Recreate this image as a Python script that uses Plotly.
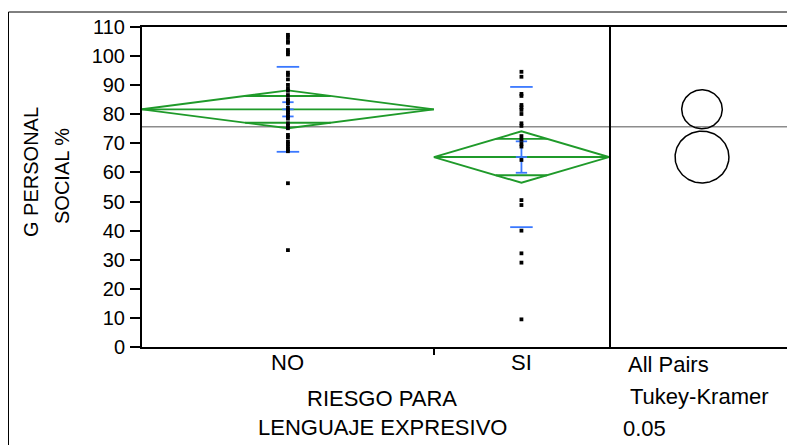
import numpy as np
import plotly.graph_objects as go

# ---------------- data ----------------
groups = ["NO", "SI"]
no_values = [107.3, 106.5, 105.2, 104.6, 102.1, 101.3, 100.6, 94.3, 93.5, 92.0, 90.1, 88.9, 88.1,
             86.6, 85.2, 84.4, 83.7, 82.2, 81.4, 80.7, 80.0, 79.2, 78.5,
             76.9, 76.0, 75.2, 72.9, 72.1, 70.6, 69.8, 68.9, 68.0, 67.3, 56.3, 33.3]
si_values = [94.6, 92.9, 87.0, 86.3, 83.2, 82.4, 81.5, 80.1, 76.9, 76.0, 72.5, 71.2, 69.8, 68.9,
             64.3, 50.5, 48.8, 40.0, 32.2, 29.0, 9.5]
group_means = [81.7, 65.3]
ci_half = [6.5, 8.85]
std_devs = [14.6, 24.1]
std_errs = [2.45, 5.4]
grand_mean = 75.7
circle_radius = [6.7, 8.9]
y_ticks = list(range(0, 111, 10))
right_panel_text = ["All Pairs", "Tukey-Kramer", "0.05"]
x_title = ["RIESGO PARA", "LENGUAJE EXPRESIVO"]
y_title = ["G PERSONAL", "SOCIAL %"]

# ---------------- styling ----------------
OFF = 8                      # page body margin
W, H = 795 - OFF, 445 - OFF
FONT = "Liberation Sans, Arial, sans-serif"
GREEN = "#1f9a2a"
BLUE = "#3a78ff"
px = lambda v: (v - OFF) / W
py = lambda v: 1 - (v - OFF) / H

x_dom = [px(142), px(609)]
x2_dom = [px(609), 1.0]
y_dom = [py(347), py(27)]

values = [no_values, si_values]
sizes = [len(v) for v in values]
lefts = [sum(sizes[:i]) for i in range(len(sizes))]
centers = [l + n / 2 for l, n in zip(lefts, sizes)]
total = sum(sizes)

fig = go.Figure()

# diamonds, mean lines, overlap marks
for l, n, c, m, h in zip(lefts, sizes, centers, group_means, ci_half):
    r = l + n
    fig.add_trace(go.Scatter(x=[l, c, r, c, l], y=[m, m + h, m, m - h, m], mode="lines",
                             line=dict(color=GREEN, width=1.9), hoverinfo="skip"))
    fig.add_trace(go.Scatter(x=[l, r], y=[m, m], mode="lines",
                             line=dict(color=GREEN, width=1.9), hoverinfo="skip"))
    hw = (1 - 1 / np.sqrt(2)) * n / 2
    ov = h / np.sqrt(2)
    fig.add_trace(go.Scatter(x=[c - hw, c + hw, None, c - hw, c + hw],
                             y=[m + ov, m + ov, None, m - ov, m - ov], mode="lines",
                             line=dict(color=GREEN, width=1.9), hoverinfo="skip"))

# blue std-dev lines and standard-error bars
sd_half = 1.35
se_half = 0.68
for c, m, s, e in zip(centers, group_means, std_devs, std_errs):
    fig.add_trace(go.Scatter(x=[c - sd_half, c + sd_half, None, c - sd_half, c + sd_half],
                             y=[m + s, m + s, None, m - s, m - s], mode="lines",
                             line=dict(color=BLUE, width=1.8), hoverinfo="skip"))
    fig.add_trace(go.Scatter(x=[c - se_half, c + se_half, None, c - se_half, c + se_half, None,
                                c - se_half, c + se_half, None, c, c],
                             y=[m + e, m + e, None, m - e, m - e, None, m, m, None, m - e, m + e],
                             mode="lines", line=dict(color=BLUE, width=1.8), hoverinfo="skip"))

# data points
for c, v in zip(centers, values):
    fig.add_trace(go.Scatter(x=[c] * len(v), y=v, mode="markers",
                             marker=dict(symbol="square", size=3.8, color="black",
                                         line=dict(width=0)), hoverinfo="y"))

# comparison circles in the right panel
x2_span = (795 - 609) * 110 / 320 / 1.04
xc = x2_span / 2
t = np.linspace(0, 2 * np.pi, 181)
for m, rad in zip(group_means, circle_radius):
    fig.add_trace(go.Scatter(x=xc + rad * np.cos(t), y=m + rad * np.sin(t), mode="lines",
                             xaxis="x2", yaxis="y", line=dict(color="black", width=1.5),
                             hoverinfo="skip"))

# grand mean line across both panels
fig.add_shape(type="line", xref="paper", yref="y", x0=x_dom[0], x1=1.0,
              y0=grand_mean, y1=grand_mean, line=dict(color="#8c8c8c", width=1.6), layer="below")

# outer frame
fig.add_shape(type="line", xref="paper", yref="paper", x0=px(8.5), x1=px(8.5), y0=py(12), y1=0,
              line=dict(color="black", width=1))
fig.add_shape(type="line", xref="paper", yref="paper", x0=px(8.5), x1=1, y0=py(12), y1=py(12),
              line=dict(color="black", width=1))

annotations = []
# category labels under the axis, at group centers
for g, c in zip(groups, centers):
    annotations.append(dict(text=g, x=c, y=py(362), xref="x", yref="paper",
                            showarrow=False, xanchor="center", yanchor="middle",
                            font=dict(family=FONT, size=22, color="black")))
for txt, yy in zip(x_title, [398, 427]):
    annotations.append(dict(text=txt, x=px(382), y=py(yy), xref="paper", yref="paper",
                            showarrow=False, xanchor="center", yanchor="middle",
                            font=dict(family=FONT, size=22, color="black")))
for txt, xx, yy in zip(right_panel_text, [626, 628, 621], [364, 396, 428]):
    annotations.append(dict(text=txt, x=px(xx), y=py(yy), xref="paper", yref="paper",
                            showarrow=False, xanchor="left", yanchor="middle",
                            font=dict(family=FONT, size=22, color="black")))
for txt, xx, yy in zip(y_title, [31, 62], [172, 176]):
    annotations.append(dict(text=txt, x=px(xx), y=py(yy), xref="paper", yref="paper",
                            showarrow=False, xanchor="center", yanchor="middle", textangle=-90,
                            font=dict(family=FONT, size=20, color="black")))

fig.update_layout(
    template="none",
    width=W, height=H, margin=dict(l=0, r=0, t=0, b=0, pad=0), autosize=False,
    paper_bgcolor="white", plot_bgcolor="white", showlegend=False,
    font=dict(family=FONT, color="black"),
    xaxis=dict(domain=x_dom, anchor="y", range=[0, total], showticklabels=False,
               ticks="", showline=True, mirror=True, linecolor="black", linewidth=2,
               showgrid=False, zeroline=False, automargin=False,
               minor=dict(tickvals=[lefts[1]], ticks="outside", ticklen=6, tickwidth=1.5,
                          tickcolor="black", showgrid=False)),
    xaxis2=dict(domain=x2_dom, anchor="y", range=[0, x2_span], showticklabels=False, ticks="",
                showline=True, mirror=True, linecolor="black", linewidth=2,
                showgrid=False, zeroline=False, automargin=False),
    yaxis=dict(domain=y_dom, anchor="x", range=[0, 110], tickvals=y_ticks, ticks="outside",
               ticklen=10, tickwidth=1.5, tickcolor="black", showline=True, mirror=True,
               linecolor="black", linewidth=2, showgrid=False, zeroline=False, automargin=False,
               ticklabelstandoff=1, tickfont=dict(family=FONT, size=20, color="black")),
    annotations=annotations,
)

fig.write_html("out.html")
